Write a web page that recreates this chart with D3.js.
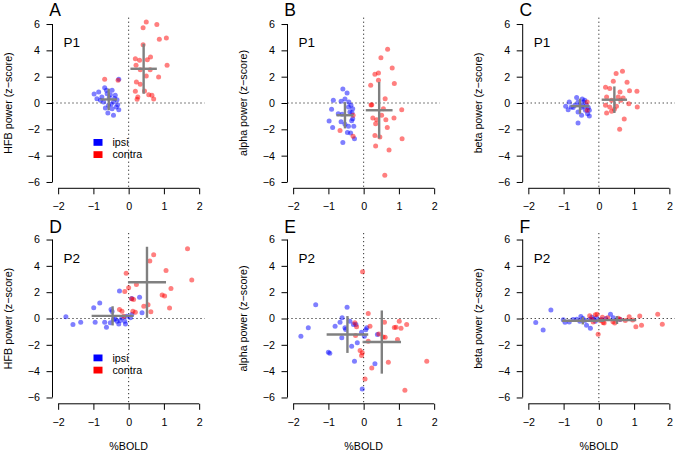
<!DOCTYPE html>
<html>
<head>
<meta charset="utf-8">
<script src="https://cdn.jsdelivr.net/npm/d3@7"></script>
<style>
  html, body { margin: 0; padding: 0; background: #fff; }
  svg { display: block; font-family: "Liberation Sans", Arial, Helvetica, sans-serif; }
</style>
</head>
<body>
<svg id="chart" width="676" height="453"></svg>
<script>
// ---------------- DATA ----------------
const xTicks = [-2, -1, 0, 1, 2];
const yTicks = [-6, -4, -2, 0, 2, 4, 6];
const panelLetters = ["A", "B", "C", "D", "E", "F"];
const subjects = ["P1", "P1", "P1", "P2", "P2", "P2"];
const yLabels = ["HFB power (z\u2212score)", "alpha power (z\u2212score)", "beta power (z\u2212score)",
                 "HFB power (z\u2212score)", "alpha power (z\u2212score)", "beta power (z\u2212score)"];
const xLabel = "%BOLD";
const legendLabels = ["ipsi", "contra"];

// [%BOLD, z-score] pairs
const A_ipsi = [[-0.98,0.68],[-0.85,0.84],[-0.68,1.16],[-0.63,0.96],[-0.47,0.96],[-0.28,1.80],[-0.90,0.33],[-0.76,0.46],[-0.61,0.71],[-0.52,0.63],[-0.38,0.58],[-0.33,0.25],[-0.71,0.08],[-0.57,-0.18],[-0.43,0.08],[-0.31,-0.13],[-0.28,-0.51],[-0.59,-0.76],[-0.43,-0.94],[-0.80,0.20],[-0.47,-0.43],[-0.66,-0.38],[-0.40,0.35],[-0.55,0.40],[-0.35,-0.30],[-0.50,-0.10]];
const A_contra = [[0.50,6.15],[0.80,5.97],[0.41,5.72],[1.07,4.94],[0.87,4.84],[0.41,4.43],[0.19,3.37],[0.62,3.49],[0.53,3.29],[0.31,3.24],[1.09,2.86],[0.21,2.86],[0.33,2.53],[0.61,2.53],[0.85,1.97],[0.50,2.05],[0.22,1.59],[0.33,1.42],[0.19,0.89],[0.45,0.91],[0.66,0.58],[0.57,0.63],[0.71,0.30],[0.26,0.46],[0.24,0.28],[-0.68,1.80],[-0.30,1.72]];
const B_ipsi = [[-0.59,1.06],[-0.47,0.76],[-0.86,0.20],[-0.53,0.30],[-0.64,0.13],[-0.42,0.08],[-0.36,-0.18],[-0.91,-0.48],[-0.43,-0.30],[-0.31,-0.43],[-0.72,-0.81],[-0.39,-0.68],[-0.61,-0.86],[-0.31,-1.19],[-0.34,-1.35],[-0.98,-1.37],[-0.64,-1.42],[-0.53,-1.62],[-0.28,-1.77],[-0.88,-1.87],[-0.43,-1.77],[-0.46,-2.25],[-0.37,-2.28],[-0.26,-2.71],[-0.59,-3.01],[-0.33,-0.75]];
const B_contra = [[0.68,4.08],[0.49,3.44],[0.81,2.66],[0.42,2.28],[0.32,2.18],[0.87,1.49],[0.20,1.34],[0.42,1.72],[0.61,0.33],[0.23,-0.13],[0.21,-0.15],[1.08,-0.51],[0.56,-0.43],[0.26,-1.14],[0.37,-1.27],[0.63,-1.27],[0.86,-1.14],[0.51,-0.94],[0.34,-1.57],[0.67,-1.87],[0.32,-2.46],[0.46,-2.58],[1.09,-2.71],[0.34,-3.27],[0.72,-3.57],[0.60,-5.49],[-0.30,-0.94],[-0.30,-2.53],[-0.67,-2.08]];
const C_ipsi = [[-0.63,0.41],[-0.47,0.30],[-0.84,0.08],[-0.94,-0.25],[-0.87,-0.51],[-0.78,-0.30],[-0.68,-0.18],[-0.59,0.08],[-0.43,0.08],[-0.35,-0.18],[-0.49,-0.35],[-0.38,-0.56],[-0.27,-0.56],[-0.59,-0.68],[-0.49,-0.94],[-0.27,-0.99],[-0.59,-1.52],[-0.73,-0.35],[-0.44,-0.25],[-0.32,-0.81],[-0.54,-0.13],[-0.40,0.20],[-0.30,-0.35]];
const C_contra = [[0.67,2.41],[0.49,2.25],[0.80,1.57],[0.41,1.65],[0.19,1.19],[0.31,1.11],[0.60,0.84],[0.87,0.94],[1.08,0.89],[0.55,0.46],[0.22,0.46],[0.36,0.20],[0.62,0.20],[0.19,-0.18],[0.31,-0.30],[0.50,-0.25],[0.85,-0.05],[1.09,-0.30],[0.22,-0.76],[0.36,-0.63],[0.44,-0.48],[0.72,-1.22],[0.59,-2.00],[-0.33,0.08],[-0.33,-0.56],[0.69,0.38]];
const D_ipsi = [[-1.78,0.13],[-1.58,-0.46],[-1.36,-0.28],[-0.99,0.81],[-0.82,1.17],[-0.95,-0.28],[-0.68,-0.28],[-0.63,-0.66],[-0.52,-0.33],[-0.50,0.69],[-0.47,0.53],[-0.38,-0.03],[-0.28,-0.41],[-0.26,2.08],[-0.24,-0.15],[-0.19,0.05],[-0.11,-0.20],[-0.09,-0.41],[-0.05,0.18],[0.05,0.05],[0.09,1.52],[0.31,1.62],[0.38,0.43],[-0.43,-0.08],[-0.33,-0.20],[0.09,0.30]];
const D_contra = [[1.67,5.30],[0.71,4.85],[0.60,4.37],[-0.07,3.43],[1.06,3.65],[1.79,2.92],[0.22,2.59],[1.20,2.28],[0.00,2.34],[-0.11,2.06],[0.95,1.78],[1.02,1.70],[0.08,1.50],[0.14,1.45],[0.55,1.04],[0.43,0.94],[1.16,0.79],[-0.26,0.69],[-0.19,0.56],[0.12,0.56],[0.19,0.48],[0.63,0.51],[-0.14,0.18]];
const E_ipsi = [[-1.36,1.04],[-1.57,-0.71],[-1.78,-1.35],[-1.00,-2.56],[-0.96,-2.64],[-0.47,0.86],[-0.61,0.05],[-0.81,-0.58],[-0.67,-0.28],[-0.62,-1.47],[-0.53,-0.71],[-0.51,-0.84],[-0.39,-0.20],[-0.29,-0.46],[-0.22,-0.46],[-0.34,-2.11],[-0.18,-1.85],[-0.26,-3.25],[-0.06,-1.04],[0.02,-1.35],[0.09,-0.71],[0.32,-3.43],[0.39,-1.22],[-0.04,-5.36],[0.06,-0.85]];
const E_contra = [[-0.03,3.55],[0.13,0.38],[-0.25,-0.33],[-0.20,-0.63],[0.18,-0.58],[0.59,-0.28],[1.01,-0.20],[1.22,-0.46],[1.06,-0.74],[0.87,-0.68],[0.92,-0.66],[0.61,-1.42],[0.43,-1.17],[0.13,-1.73],[0.96,-1.60],[-0.10,-2.44],[-0.04,-2.61],[-0.06,-2.82],[0.70,-3.32],[0.23,-3.76],[1.79,-3.25],[0.04,-4.59],[1.17,-5.46],[-0.23,-1.29],[0.55,-1.40]];
const F_ipsi = [[-1.36,0.65],[-1.79,-0.31],[-1.58,-0.87],[-1.01,-0.10],[-0.84,-0.26],[-0.73,-0.08],[-0.63,-0.05],[-0.51,0.15],[-0.54,-0.20],[-0.35,-0.51],[-0.24,-0.74],[-0.26,-0.08],[-0.16,-0.05],[-0.07,0.05],[0.08,-0.08],[0.33,0.33],[0.41,0.05],[0.60,-0.08],[-0.96,-0.28],[-0.45,0.00],[-0.40,-0.15],[-0.20,0.10],[0.20,0.00],[-0.10,-0.20]];
const F_contra = [[1.67,0.32],[1.80,-0.44],[1.16,0.19],[1.21,-0.52],[1.05,-0.62],[0.86,0.14],[0.96,-0.11],[-0.05,0.33],[-0.26,0.20],[-0.02,-1.20],[0.12,-0.31],[-0.16,-0.26],[0.60,-0.05],[0.45,-0.35],[0.10,0.10],[0.25,0.05],[-0.10,0.28],[0.55,0.02],[0.75,-0.15],[0.40,-0.25],[0.05,-0.15],[-0.20,-0.05],[0.15,-0.35]];

// group summary crosses: [mean %BOLD, mean z, sd %BOLD, sd z] for panels A..F
const crossIpsi = [[-0.565,0.27,0.235,0.82],[-0.53,-0.93,0.24,1.0],[-0.535,-0.24,0.265,0.57],
                   [-0.455,0.20,0.595,0.73],[-0.46,-1.215,0.59,1.4],[-0.455,-0.17,0.595,0.28]];
const crossContra = [[0.425,2.6,0.375,1.9],[0.44,-0.55,0.38,2.15],[0.44,0.25,0.36,1.01],
                     [0.52,2.75,0.54,2.7],[0.515,-1.79,0.545,2.4],[0.515,-0.12,0.545,0.3]];

const ipsiData = [A_ipsi, B_ipsi, C_ipsi, D_ipsi, E_ipsi, F_ipsi];
const contraData = [A_contra, B_contra, C_contra, D_contra, E_contra, F_contra];

// ---------------- LAYOUT / STYLE ----------------
const colLeft = [52.5, 287.5, 522.7], plotW = 152.3;
const rowTop = [17.7, 233.2], plotH = 170.6;
const fontSmall = 10.7;
const blueFill = "rgba(0,0,255,0.5)", redFill = "rgba(255,0,0,0.5)";
const crossColor = "#808080";
const fmt = d3.format("~g");

const svg = d3.select("#chart");

panelLetters.forEach((letter, i) => {
  const row = Math.floor(i / 3), col = i % 3;
  const L = colLeft[col], T = rowTop[row];
  const x = d3.scaleLinear().domain([-2.16, 2.16]).range([L, L + plotW]);
  const y = d3.scaleLinear().domain([-6.48, 6.48]).range([T + plotH, T]);
  const g = svg.append("g");

  // dotted reference lines
  g.append("line").attr("x1", x(0)).attr("x2", x(0)).attr("y1", T).attr("y2", T + plotH)
    .attr("stroke", "#000").attr("stroke-width", 1).attr("stroke-dasharray", "1,3");
  g.append("line").attr("x1", L).attr("x2", L + plotW).attr("y1", y(0)).attr("y2", y(0))
    .attr("stroke", "#000").attr("stroke-width", 1).attr("stroke-dasharray", "1,3");

  // y axis
  const ya = g.append("g").attr("transform", `translate(${L},0)`)
    .call(d3.axisLeft(y).tickValues(yTicks).tickFormat(fmt).tickSize(6).tickPadding(6.5));
  ya.select(".domain").remove();
  ya.append("line").attr("x1", 0).attr("x2", 0).attr("y1", y(-6)).attr("y2", y(6)).attr("stroke", "#000");
  ya.selectAll("text").attr("font-size", fontSmall).attr("font-family", "Liberation Sans, Arial, sans-serif").attr("fill", "#000");

  // x axis
  const xa = g.append("g").attr("transform", `translate(0,${T + plotH})`)
    .call(d3.axisBottom(x).tickValues(xTicks).tickFormat(fmt).tickSize(6).tickPadding(8.5));
  xa.select(".domain").remove();
  xa.append("line").attr("x1", x(-2)).attr("x2", x(2)).attr("y1", 0).attr("y2", 0).attr("stroke", "#000");
  xa.selectAll("text").attr("font-size", fontSmall).attr("font-family", "Liberation Sans, Arial, sans-serif").attr("fill", "#000");

  // y label
  const cy = T + plotH / 2;
  g.append("text").attr("transform", `translate(${L - 44.3},${cy}) rotate(-90)`)
    .attr("text-anchor", "middle").attr("dy", "0.35em").attr("font-size", fontSmall).text(yLabels[i]);

  // x label (bottom row only)
  if (row === 1) {
    g.append("text").attr("x", x(0)).attr("y", T + plotH + 46.5).attr("text-anchor", "middle")
      .attr("font-size", fontSmall).text(xLabel);
  }

  // panel letter
  g.append("text").attr("x", L - 3.2).attr("y", T - (row === 0 ? 1.4 : 0.7)).attr("font-size", 17.5).text(letter);

  // subject label
  g.append("text").attr("x", x(-1.85)).attr("y", y(4.25)).attr("font-size", 13.5).text(subjects[i]);

  // points
  g.selectAll("circle.ipsi").data(ipsiData[i]).join("circle").attr("class", "ipsi")
    .attr("cx", d => x(d[0])).attr("cy", d => y(d[1])).attr("r", 2.5).attr("fill", blueFill);
  g.selectAll("circle.contra").data(contraData[i]).join("circle").attr("class", "contra")
    .attr("cx", d => x(d[0])).attr("cy", d => y(d[1])).attr("r", 2.5).attr("fill", redFill);

  // crosses (mean ± sd)
  [crossIpsi[i], crossContra[i]].forEach(c => {
    g.append("line").attr("x1", x(c[0] - c[2])).attr("x2", x(c[0] + c[2])).attr("y1", y(c[1])).attr("y2", y(c[1]))
      .attr("stroke", crossColor).attr("stroke-width", 2.4);
    g.append("line").attr("x1", x(c[0])).attr("x2", x(c[0])).attr("y1", y(c[1] - c[3])).attr("y2", y(c[1] + c[3]))
      .attr("stroke", crossColor).attr("stroke-width", 2.4);
  });

  // legend (first column)
  if (col === 0) {
    const colors = ["#0000ff", "#ff0000"];
    legendLabels.forEach((lab, k) => {
      g.append("rect").attr("x", L + 41).attr("y", T + 121.3 + k * 12.2).attr("width", 9).attr("height", 6.8).attr("fill", colors[k]);
      g.append("text").attr("x", L + 60).attr("y", T + 128.3 + k * 12.2).attr("font-size", fontSmall).text(lab);
    });
  }
});
</script>
</body>
</html>
